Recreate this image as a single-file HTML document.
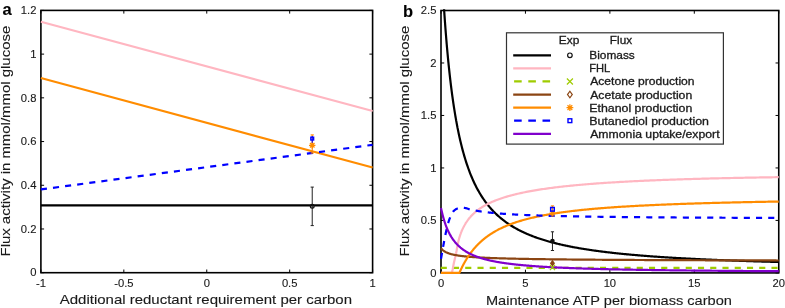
<!DOCTYPE html><html><head><meta charset="utf-8"><style>html,body{margin:0;padding:0;background:#fff;width:785px;height:308px;overflow:hidden}body{position:relative;font-family:"Liberation Sans",sans-serif}</style></head><body>
<svg width="785" height="308" viewBox="0 0 785 308" style="position:absolute;left:0;top:0;will-change:transform;font-family:&quot;Liberation Sans&quot;,sans-serif">
<defs><clipPath id="ca"><rect x="39.699999999999996" y="9.200000000000001" width="334.1" height="264.7"/></clipPath><clipPath id="cb"><rect x="439.8" y="9.3" width="340.15" height="264.79999999999995"/></clipPath></defs>
<rect x="40.9" y="10.4" width="331.70" height="262.30" fill="none" stroke="#000" stroke-width="1.6"/>
<path d="M40.90,272.70v-3.2M40.90,10.40v3.2M123.83,272.70v-3.2M123.83,10.40v3.2M206.75,272.70v-3.2M206.75,10.40v3.2M289.68,272.70v-3.2M289.68,10.40v3.2M372.60,272.70v-3.2M372.60,10.40v3.2M40.90,272.70h3.2M372.60,272.70h-3.2M40.90,228.98h3.2M372.60,228.98h-3.2M40.90,185.27h3.2M372.60,185.27h-3.2M40.90,141.55h3.2M372.60,141.55h-3.2M40.90,97.83h3.2M372.60,97.83h-3.2M40.90,54.12h3.2M372.60,54.12h-3.2M40.90,10.40h3.2M372.60,10.40h-3.2" stroke="#000" stroke-width="1"/>
<rect x="441.0" y="10.5" width="337.75" height="262.40" fill="none" stroke="#000" stroke-width="1.6"/>
<path d="M441.00,272.90v-3.2M441.00,10.50v3.2M525.44,272.90v-3.2M525.44,10.50v3.2M609.88,272.90v-3.2M609.88,10.50v3.2M694.31,272.90v-3.2M694.31,10.50v3.2M778.75,272.90v-3.2M778.75,10.50v3.2M441.00,272.90h3.2M778.75,272.90h-3.2M441.00,220.42h3.2M778.75,220.42h-3.2M441.00,167.94h3.2M778.75,167.94h-3.2M441.00,115.46h3.2M778.75,115.46h-3.2M441.00,62.98h3.2M778.75,62.98h-3.2M441.00,10.50h3.2M778.75,10.50h-3.2" stroke="#000" stroke-width="1"/>
<polyline points="40.90,21.77 372.60,110.95" fill="none" stroke="#ffb6c1" stroke-width="2.2" stroke-linejoin="round" clip-path="url(#ca)"/>
<polyline points="40.90,77.94 372.60,167.56" fill="none" stroke="#ff8c00" stroke-width="2.2" stroke-linejoin="round" clip-path="url(#ca)"/>
<polyline points="40.90,189.42 372.60,144.83" fill="none" stroke="#0000ff" stroke-width="2.2" stroke-dasharray="6.1,6.1" stroke-linejoin="round" clip-path="url(#ca)"/>
<polyline points="40.90,205.38 372.60,205.38" fill="none" stroke="#000000" stroke-width="2.2" stroke-linejoin="round" clip-path="url(#ca)"/>
<line x1="312.23" y1="187.10" x2="312.23" y2="225.60" stroke="#222" stroke-width="1.0"/>
<line x1="310.63" y1="187.10" x2="313.83" y2="187.10" stroke="#222" stroke-width="1.0"/>
<line x1="310.63" y1="225.60" x2="313.83" y2="225.60" stroke="#222" stroke-width="1.0"/>
<circle cx="312.23" cy="206.30" r="1.9" fill="none" stroke="#111" stroke-width="1.2"/>
<line x1="312.23" y1="134.90" x2="312.23" y2="153.00" stroke="#ff8c00" stroke-width="1.1"/>
<line x1="310.63" y1="134.90" x2="313.83" y2="134.90" stroke="#ff8c00" stroke-width="1.1"/>
<line x1="310.63" y1="153.00" x2="313.83" y2="153.00" stroke="#ff8c00" stroke-width="1.1"/>
<path d="M309.03,145.30L315.43,145.30M312.23,142.10L312.23,148.50M309.97,143.04L314.49,147.56M309.97,147.56L314.49,143.04" stroke="#ff8c00" stroke-width="1.3"/>
<line x1="312.23" y1="136" x2="312.23" y2="142.7" stroke="#0000ff" stroke-width="1.1"/>
<rect x="310.83" y="137.20" width="2.8" height="2.8" fill="none" stroke="#0000ff" stroke-width="1.4"/>
<polyline points="440.70,267.97 778.75,267.97" fill="none" stroke="#9fcc00" stroke-width="2.2" stroke-dasharray="6.125,6.125" stroke-linejoin="round" clip-path="url(#cb)"/>
<polyline points="441.84,-28.83 441.92,-27.28 442.01,-25.75 442.09,-24.24 442.17,-22.74 442.25,-21.25 442.33,-19.77 442.41,-18.31 442.49,-16.87 442.57,-15.43 442.65,-14.01 442.73,-12.60 442.81,-11.20 442.89,-9.82 442.97,-8.44 443.05,-7.08 443.13,-5.74 443.21,-4.40 443.30,-3.07 443.38,-1.76 443.46,-0.46 443.54,0.84 443.62,2.12 443.70,3.39 443.78,4.64 443.86,5.89 443.94,7.13 444.02,8.36 444.10,9.58 444.18,10.78 444.26,11.98 444.34,13.17 444.42,14.35 444.50,15.51 444.59,16.67 444.67,17.82 444.75,18.96 444.83,20.09 444.91,21.21 444.99,22.33 445.07,23.43 445.15,24.52 445.23,25.61 445.31,26.69 445.39,27.76 445.47,28.82 445.55,29.87 445.63,30.92 445.71,31.95 445.79,32.98 445.88,34.00 445.96,35.01 446.04,36.02 446.12,37.01 446.20,38.00 446.28,38.99 446.36,39.96 446.44,40.93 446.52,41.89 446.60,42.84 446.68,43.79 446.76,44.72 446.84,45.66 446.92,46.58 447.00,47.50 447.08,48.41 447.17,49.31 447.25,50.21 447.33,51.10 447.41,51.99 447.49,52.87 447.57,53.74 447.65,54.61 447.73,55.47 447.81,56.32 447.89,57.17 447.97,58.01 448.05,58.85 448.13,59.68 448.21,60.50 448.29,61.32 448.37,62.13 448.46,62.94 448.54,63.74 448.62,64.53 448.70,65.32 448.78,66.11 448.86,66.89 448.94,67.66 449.02,68.43 449.10,69.20 449.18,69.95 449.26,70.71 449.34,71.46 449.42,72.20 449.50,72.94 449.58,73.67 449.66,74.40 449.75,75.12 449.83,75.84 449.91,76.56 449.99,77.27 450.07,77.97 450.15,78.67 450.23,79.37 450.31,80.06 450.39,80.75 450.47,81.43 450.55,82.11 450.63,82.78 450.71,83.45 450.79,84.11 450.87,84.77 450.95,85.43 451.03,86.08 451.12,86.73 451.20,87.38 451.28,88.02 451.36,88.65 451.44,89.28 451.52,89.91 451.60,90.54 451.68,91.16 451.76,91.77 451.84,92.39 451.92,93.00 452.00,93.60 452.08,94.20 452.16,94.80 452.24,95.40 452.32,95.99 452.41,96.57 452.49,97.16 452.57,97.74 452.65,98.31 452.73,98.89 452.81,99.46 452.89,100.02 452.97,100.59 453.05,101.15 453.13,101.70 453.21,102.26 453.29,102.81 453.37,103.35 453.45,103.90 453.53,104.44 453.61,104.97 453.70,105.51 453.78,106.04 453.86,106.57 453.94,107.09 454.02,107.61 454.10,108.13 454.18,108.65 454.26,109.16 454.34,109.67 454.42,110.18 454.50,110.68 454.58,111.18 454.66,111.68 454.74,112.18 454.82,112.67 454.90,113.16 454.99,113.65 455.07,114.13 455.15,114.61 455.23,115.09 455.31,115.57 455.39,116.05 455.47,116.52 455.55,116.99 455.63,117.45 455.71,117.92 455.79,118.38 455.87,118.84 455.95,119.29 456.03,119.75 456.11,120.20 456.19,120.65 456.28,121.09 456.36,121.54 456.44,121.98 456.52,122.42 456.60,122.86 456.68,123.29 456.76,123.72 456.84,124.15 456.92,124.58 457.00,125.01 457.08,125.43 457.16,125.85 457.24,126.27 457.32,126.69 457.40,127.10 457.48,127.52 457.57,127.93 457.65,128.34 457.73,128.74 457.81,129.15 457.89,129.55 457.89,129.55 458.69,133.45 459.50,137.16 460.30,140.70 461.10,144.07 461.91,147.28 462.71,150.35 463.52,153.29 464.32,156.10 465.12,158.79 465.93,161.37 466.73,163.84 467.54,166.21 468.34,168.49 469.15,170.68 469.95,172.79 470.75,174.82 471.56,176.77 472.36,178.66 473.17,180.47 473.97,182.23 474.77,183.92 475.58,185.55 476.38,187.13 477.19,188.66 477.99,190.13 478.80,191.56 479.60,192.95 480.40,194.29 481.21,195.59 482.01,196.85 482.82,198.07 483.62,199.26 484.43,200.41 485.23,201.53 486.03,202.61 486.84,203.67 487.64,204.69 488.45,205.69 489.25,206.66 490.05,207.61 490.86,208.53 491.66,209.42 492.47,210.29 493.27,211.14 494.07,211.97 494.88,212.78 495.68,213.57 496.49,214.33 497.29,215.08 498.10,215.82 498.90,216.53 499.70,217.23 500.51,217.91 501.31,218.57 502.12,219.22 502.92,219.86 503.73,220.48 504.53,221.09 505.33,221.68 506.14,222.27 506.94,222.83 507.75,223.39 508.55,223.94 509.35,224.47 510.16,224.99 510.96,225.50 511.77,226.01 512.57,226.50 513.38,226.98 514.18,227.45 514.98,227.91 515.79,228.37 516.59,228.81 517.40,229.25 518.20,229.68 519.00,230.10 519.81,230.51 520.61,230.91 521.42,231.31 522.22,231.70 523.02,232.08 523.83,232.46 524.63,232.83 525.44,233.19 526.24,233.55 527.05,233.90 527.85,234.24 528.65,234.58 529.46,234.91 530.26,235.24 531.07,235.56 531.87,235.88 532.67,236.19 533.48,236.49 534.28,236.80 535.09,237.09 535.89,237.38 536.70,237.67 537.50,237.95 538.30,238.23 539.11,238.50 539.91,238.77 540.72,239.04 541.52,239.30 542.33,239.55 543.13,239.81 543.93,240.06 544.74,240.30 545.54,240.54 546.35,240.78 547.15,241.02 547.95,241.25 548.76,241.48 549.56,241.70 550.37,241.92 551.17,242.14 551.98,242.36 552.78,242.57 553.58,242.78 554.39,242.99 555.19,243.19 556.00,243.39 556.80,243.59 557.60,243.78 558.41,243.98 559.21,244.17 560.02,244.36 560.82,244.54 561.62,244.72 562.43,244.90 563.23,245.08 564.04,245.26 564.84,245.43 565.65,245.60 566.45,245.77 567.25,245.94 568.06,246.11 568.86,246.27 569.67,246.43 570.47,246.59 571.27,246.75 572.08,246.90 572.88,247.05 573.69,247.21 574.49,247.36 575.30,247.50 576.10,247.65 576.90,247.79 577.71,247.94 578.51,248.08 579.32,248.22 580.12,248.36 580.92,248.49 581.73,248.63 582.53,248.76 583.34,248.89 584.14,249.02 584.95,249.15 585.75,249.28 586.55,249.40 587.36,249.53 588.16,249.65 588.97,249.77 589.77,249.89 590.58,250.01 591.38,250.13 592.18,250.25 592.99,250.36 593.79,250.48 594.60,250.59 595.40,250.70 596.20,250.81 597.01,250.92 597.81,251.03 598.62,251.14 599.42,251.24 600.23,251.35 601.03,251.45 601.83,251.55 602.64,251.65 603.44,251.76 604.25,251.85 605.05,251.95 605.85,252.05 606.66,252.15 607.46,252.24 608.27,252.34 609.07,252.43 609.88,252.53 610.68,252.62 611.48,252.71 612.29,252.80 613.09,252.89 613.90,252.98 614.70,253.07 615.50,253.15 616.31,253.24 617.11,253.32 617.92,253.41 618.72,253.49 619.52,253.58 620.33,253.66 621.13,253.74 621.94,253.82 622.74,253.90 623.55,253.98 624.35,254.06 625.15,254.14 625.96,254.21 626.76,254.29 627.57,254.37 628.37,254.44 629.17,254.51 629.98,254.59 630.78,254.66 631.59,254.73 632.39,254.81 633.20,254.88 634.00,254.95 634.80,255.02 635.61,255.09 636.41,255.16 637.22,255.22 638.02,255.29 638.82,255.36 639.63,255.43 640.43,255.49 641.24,255.56 642.04,255.62 642.85,255.69 643.65,255.75 644.45,255.81 645.26,255.88 646.06,255.94 646.87,256.00 647.67,256.06 648.47,256.12 649.28,256.18 650.08,256.24 650.89,256.30 651.69,256.36 652.50,256.42 653.30,256.48 654.10,256.54 654.91,256.59 655.71,256.65 656.52,256.71 657.32,256.76 658.12,256.82 658.93,256.87 659.73,256.93 660.54,256.98 661.34,257.03 662.15,257.09 662.95,257.14 663.75,257.19 664.56,257.24 665.36,257.30 666.17,257.35 666.97,257.40 667.77,257.45 668.58,257.50 669.38,257.55 670.19,257.60 670.99,257.65 671.80,257.69 672.60,257.74 673.40,257.79 674.21,257.84 675.01,257.89 675.82,257.93 676.62,257.98 677.42,258.03 678.23,258.07 679.03,258.12 679.84,258.16 680.64,258.21 681.45,258.25 682.25,258.30 683.05,258.34 683.86,258.38 684.66,258.43 685.47,258.47 686.27,258.51 687.08,258.56 687.88,258.60 688.68,258.64 689.49,258.68 690.29,258.72 691.10,258.76 691.90,258.80 692.70,258.84 693.51,258.89 694.31,258.93 695.12,258.96 695.92,259.00 696.73,259.04 697.53,259.08 698.33,259.12 699.14,259.16 699.94,259.20 700.75,259.24 701.55,259.27 702.35,259.31 703.16,259.35 703.96,259.38 704.77,259.42 705.57,259.46 706.38,259.49 707.18,259.53 707.98,259.57 708.79,259.60 709.59,259.64 710.40,259.67 711.20,259.71 712.00,259.74 712.81,259.78 713.61,259.81 714.42,259.84 715.22,259.88 716.02,259.91 716.83,259.94 717.63,259.98 718.44,260.01 719.24,260.04 720.05,260.08 720.85,260.11 721.65,260.14 722.46,260.17 723.26,260.20 724.07,260.24 724.87,260.27 725.67,260.30 726.48,260.33 727.28,260.36 728.09,260.39 728.89,260.42 729.70,260.45 730.50,260.48 731.30,260.51 732.11,260.54 732.91,260.57 733.72,260.60 734.52,260.63 735.33,260.66 736.13,260.69 736.93,260.72 737.74,260.74 738.54,260.77 739.35,260.80 740.15,260.83 740.95,260.86 741.76,260.88 742.56,260.91 743.37,260.94 744.17,260.97 744.98,260.99 745.78,261.02 746.58,261.05 747.39,261.07 748.19,261.10 749.00,261.13 749.80,261.15 750.60,261.18 751.41,261.21 752.21,261.23 753.02,261.26 753.82,261.28 754.62,261.31 755.43,261.33 756.23,261.36 757.04,261.38 757.84,261.41 758.65,261.43 759.45,261.46 760.25,261.48 761.06,261.51 761.86,261.53 762.67,261.55 763.47,261.58 764.27,261.60 765.08,261.63 765.88,261.65 766.69,261.67 767.49,261.70 768.30,261.72 769.10,261.74 769.90,261.76 770.71,261.79 771.51,261.81 772.32,261.83 773.12,261.85 773.92,261.88 774.73,261.90 775.53,261.92 776.34,261.94 777.14,261.96 777.95,261.99 778.75,262.01" fill="none" stroke="#000000" stroke-width="2.2" stroke-linejoin="round" clip-path="url(#cb)"/>
<polyline points="441.00,272.90 443.62,272.90 446.24,272.90 448.85,272.90 451.47,272.90 451.47,272.90 451.60,272.84 451.74,272.68 451.87,272.42 452.01,272.07 452.14,271.64 452.28,271.14 452.41,270.58 452.55,269.96 452.68,269.30 452.81,268.61 452.95,267.89 453.08,267.16 453.22,266.41 453.35,265.67 453.49,264.94 453.62,264.23 453.76,263.55 453.89,262.91 454.02,262.31 454.16,261.74 454.29,261.16 454.43,260.59 454.56,260.02 454.70,259.44 454.83,258.86 454.97,258.28 455.10,257.70 455.23,257.11 455.37,256.52 455.50,255.92 455.64,255.31 455.77,254.69 455.91,254.07 456.04,253.43 456.18,252.79 456.31,252.13 456.44,251.45 456.58,250.74 456.71,249.99 456.85,249.22 456.98,248.44 457.12,247.66 457.25,246.88 457.38,246.12 457.52,245.37 457.65,244.66 457.79,243.99 457.92,243.36 458.06,242.76 458.19,242.17 458.33,241.60 458.46,241.05 458.59,240.51 458.73,239.98 458.86,239.47 459.00,238.97 459.13,238.49 459.27,238.01 459.40,237.55 459.54,237.09 459.67,236.65 459.80,236.22 459.94,235.80 460.07,235.39 460.21,234.98 460.34,234.59 460.48,234.21 460.61,233.83 460.75,233.46 460.88,233.09 461.01,232.74 461.15,232.38 461.28,232.04 461.42,231.70 461.55,231.36 461.69,231.04 461.82,230.72 461.96,230.40 462.09,230.09 462.22,229.78 462.36,229.48 462.49,229.18 462.63,228.89 462.76,228.60 462.90,228.32 463.03,228.04 463.16,227.76 463.30,227.49 463.43,227.22 463.57,226.96 463.70,226.70 463.84,226.44 463.97,226.19 464.11,225.94 464.24,225.69 464.37,225.45 464.51,225.21 464.64,224.97 464.78,224.74 464.91,224.51 465.05,224.28 465.18,224.05 465.32,223.83 465.45,223.61 465.58,223.39 465.72,223.17 465.85,222.96 465.99,222.75 466.12,222.54 466.26,222.34 466.39,222.13 466.53,221.93 466.66,221.73 466.79,221.53 466.93,221.34 467.06,221.15 467.20,220.95 467.33,220.77 467.47,220.58 467.60,220.39 467.74,220.21 467.87,220.03 468.00,219.85 468.14,219.67 468.27,219.49 468.41,219.32 468.54,219.15 468.68,218.98 468.81,218.81 468.95,218.64 469.08,218.47 469.21,218.31 469.35,218.14 469.48,217.98 469.62,217.82 469.75,217.66 469.89,217.50 470.02,217.35 470.15,217.19 470.29,217.04 470.42,216.89 470.56,216.74 470.69,216.59 470.83,216.44 470.96,216.29 471.10,216.15 471.23,216.00 471.36,215.86 471.50,215.72 471.63,215.57 471.77,215.43 471.90,215.30 472.04,215.16 472.17,215.02 472.31,214.89 472.44,214.75 472.57,214.62 472.71,214.49 472.84,214.35 472.98,214.22 473.11,214.09 473.25,213.97 473.38,213.84 473.52,213.71 473.65,213.59 473.78,213.46 473.92,213.34 474.05,213.21 474.19,213.09 474.32,212.97 474.46,212.85 474.59,212.73 474.73,212.61 474.86,212.49 474.99,212.38 475.13,212.26 475.26,212.15 475.40,212.03 475.53,211.92 475.67,211.80 475.80,211.69 475.94,211.58 476.07,211.47 476.20,211.36 476.34,211.25 476.47,211.14 476.61,211.03 476.74,210.93 476.88,210.82 477.01,210.71 477.14,210.61 477.28,210.51 477.41,210.40 477.55,210.30 477.68,210.20 477.82,210.09 477.95,209.99 478.09,209.89 478.22,209.79 478.35,209.69 478.49,209.59 478.62,209.50 478.76,209.40 478.89,209.30 479.03,209.21 479.16,209.11 479.30,209.01 479.43,208.92 479.56,208.83 479.70,208.73 479.83,208.64 479.97,208.55 480.10,208.45 480.24,208.36 480.37,208.27 480.51,208.18 480.64,208.09 480.77,208.00 480.91,207.91 481.04,207.83 481.18,207.74 481.31,207.65 481.45,207.56 481.58,207.48 481.72,207.39 481.85,207.31 481.98,207.22 482.12,207.14 482.25,207.05 482.39,206.97 482.52,206.89 482.66,206.80 482.79,206.72 482.93,206.64 483.06,206.56 483.19,206.48 483.33,206.40 483.46,206.32 483.60,206.24 483.73,206.16 483.87,206.08 484.00,206.00 484.13,205.92 484.27,205.84 484.40,205.77 484.54,205.69 484.67,205.61 484.81,205.54 484.94,205.46 485.08,205.39 485.21,205.31 485.34,205.24 485.48,205.16 485.61,205.09 485.75,205.02 485.88,204.94 486.02,204.87 486.15,204.80 486.29,204.73 486.42,204.65 486.55,204.58 486.69,204.51 486.82,204.44 486.96,204.37 487.09,204.30 487.23,204.23 487.36,204.16 487.50,204.09 487.63,204.02 487.76,203.95 487.90,203.89 488.03,203.82 488.17,203.75 488.30,203.68 488.44,203.62 488.57,203.55 488.71,203.48 488.84,203.42 488.97,203.35 489.11,203.29 489.24,203.22 489.38,203.16 489.51,203.09 489.65,203.03 489.78,202.97 489.92,202.90 490.05,202.84 490.18,202.78 490.32,202.71 490.45,202.65 490.59,202.59 490.72,202.53 490.86,202.46 490.99,202.40 491.12,202.34 491.26,202.28 491.39,202.22 491.53,202.16 491.66,202.10 491.66,202.10 493.11,201.47 494.55,200.87 495.99,200.29 497.43,199.74 498.88,199.21 500.32,198.69 501.76,198.20 503.20,197.73 504.65,197.27 506.09,196.83 507.53,196.41 508.97,195.99 510.42,195.60 511.86,195.21 513.30,194.84 514.74,194.48 516.19,194.12 517.63,193.78 519.07,193.45 520.52,193.13 521.96,192.82 523.40,192.52 524.84,192.22 526.29,191.93 527.73,191.66 529.17,191.38 530.61,191.12 532.06,190.86 533.50,190.61 534.94,190.36 536.38,190.12 537.83,189.88 539.27,189.66 540.71,189.43 542.16,189.21 543.60,189.00 545.04,188.79 546.48,188.59 547.93,188.39 549.37,188.19 550.81,188.00 552.25,187.81 553.70,187.63 555.14,187.45 556.58,187.27 558.02,187.10 559.47,186.93 560.91,186.76 562.35,186.60 563.80,186.44 565.24,186.28 566.68,186.13 568.12,185.98 569.57,185.83 571.01,185.69 572.45,185.54 573.89,185.40 575.34,185.27 576.78,185.13 578.22,185.00 579.66,184.87 581.11,184.74 582.55,184.62 583.99,184.49 585.43,184.37 586.88,184.25 588.32,184.13 589.76,184.02 591.21,183.90 592.65,183.79 594.09,183.68 595.53,183.57 596.98,183.47 598.42,183.36 599.86,183.26 601.30,183.16 602.75,183.06 604.19,182.96 605.63,182.86 607.07,182.77 608.52,182.67 609.96,182.58 611.40,182.49 612.85,182.40 614.29,182.31 615.73,182.23 617.17,182.14 618.62,182.06 620.06,181.97 621.50,181.89 622.94,181.81 624.39,181.73 625.83,181.65 627.27,181.57 628.71,181.50 630.16,181.42 631.60,181.35 633.04,181.27 634.48,181.20 635.93,181.13 637.37,181.06 638.81,180.99 640.26,180.92 641.70,180.86 643.14,180.79 644.58,180.72 646.03,180.66 647.47,180.60 648.91,180.53 650.35,180.47 651.80,180.41 653.24,180.35 654.68,180.29 656.12,180.23 657.57,180.17 659.01,180.12 660.45,180.06 661.90,180.00 663.34,179.95 664.78,179.89 666.22,179.84 667.67,179.79 669.11,179.73 670.55,179.68 671.99,179.63 673.44,179.58 674.88,179.53 676.32,179.48 677.76,179.43 679.21,179.39 680.65,179.34 682.09,179.29 683.54,179.25 684.98,179.20 686.42,179.16 687.86,179.11 689.31,179.07 690.75,179.03 692.19,178.98 693.63,178.94 695.08,178.90 696.52,178.86 697.96,178.82 699.40,178.78 700.85,178.74 702.29,178.70 703.73,178.66 705.17,178.62 706.62,178.58 708.06,178.55 709.50,178.51 710.95,178.47 712.39,178.44 713.83,178.40 715.27,178.37 716.72,178.33 718.16,178.30 719.60,178.26 721.04,178.23 722.49,178.20 723.93,178.17 725.37,178.13 726.81,178.10 728.26,178.07 729.70,178.04 731.14,178.01 732.59,177.98 734.03,177.95 735.47,177.92 736.91,177.89 738.36,177.86 739.80,177.83 741.24,177.80 742.68,177.78 744.13,177.75 745.57,177.72 747.01,177.69 748.45,177.67 749.90,177.64 751.34,177.62 752.78,177.59 754.22,177.57 755.67,177.54 757.11,177.52 758.55,177.49 760.00,177.47 761.44,177.44 762.88,177.42 764.32,177.40 765.77,177.38 767.21,177.35 768.65,177.33 770.09,177.31 771.54,177.29 772.98,177.27 774.42,177.24 775.86,177.22 777.31,177.20 778.75,177.18" fill="none" stroke="#ffb6c1" stroke-width="2.2" stroke-linejoin="round" clip-path="url(#cb)"/>
<polyline points="441.00,248.10 441.42,248.64 441.84,249.13 442.27,249.57 442.69,249.97 443.11,250.33 443.53,250.67 443.96,250.98 444.38,251.26 444.80,251.53 445.22,251.78 445.64,252.01 446.07,252.23 446.49,252.43 446.91,252.63 447.33,252.81 447.75,252.98 448.18,253.14 448.60,253.30 449.02,253.45 449.44,253.59 449.87,253.72 450.29,253.85 450.71,253.97 451.13,254.09 451.55,254.20 451.98,254.31 452.40,254.42 452.82,254.52 453.24,254.61 453.67,254.71 454.09,254.80 454.51,254.88 454.93,254.97 455.35,255.05 455.78,255.13 456.20,255.20 456.62,255.27 457.04,255.35 457.47,255.42 457.89,255.48 458.31,255.55 458.73,255.61 459.15,255.67 459.58,255.73 460.00,255.79 460.42,255.85 460.84,255.90 461.26,255.96 461.69,256.01 462.11,256.06 462.53,256.11 462.95,256.16 463.38,256.21 463.80,256.26 464.22,256.30 464.64,256.35 465.06,256.39 465.49,256.43 465.91,256.47 466.33,256.51 466.75,256.55 467.18,256.59 467.60,256.63 468.02,256.67 468.44,256.71 468.86,256.74 469.29,256.78 469.71,256.81 470.13,256.85 470.55,256.88 470.98,256.91 471.40,256.95 471.82,256.98 472.24,257.01 472.66,257.04 473.09,257.07 473.51,257.10 473.93,257.13 474.35,257.16 474.77,257.18 475.20,257.21 475.62,257.24 476.04,257.27 476.46,257.29 476.89,257.32 477.31,257.34 477.73,257.37 478.15,257.39 478.57,257.42 479.00,257.44 479.42,257.46 479.84,257.49 480.26,257.51 480.69,257.53 481.11,257.56 481.53,257.58 481.95,257.60 482.37,257.62 482.80,257.64 483.22,257.66 483.64,257.68 484.06,257.70 484.49,257.72 484.91,257.74 485.33,257.76 485.75,257.78 486.17,257.80 486.60,257.82 487.02,257.84 487.44,257.85 487.86,257.87 488.29,257.89 488.71,257.91 489.13,257.93 489.55,257.94 489.97,257.96 490.40,257.98 490.82,257.99 491.24,258.01 491.66,258.03 492.08,258.04 492.51,258.06 492.93,258.07 493.35,258.09 493.77,258.10 494.20,258.12 494.62,258.13 495.04,258.15 495.46,258.16 495.88,258.18 496.31,258.19 496.73,258.20 497.15,258.22 497.57,258.23 498.00,258.25 498.42,258.26 498.84,258.27 499.26,258.29 499.68,258.30 500.11,258.31 500.53,258.33 500.95,258.34 501.37,258.35 501.80,258.36 502.22,258.38 502.64,258.39 503.06,258.40 503.48,258.41 503.91,258.42 504.33,258.44 504.75,258.45 505.17,258.46 505.59,258.47 506.02,258.48 506.44,258.49 506.86,258.50 507.28,258.51 507.71,258.53 508.13,258.54 508.55,258.55 508.97,258.56 509.39,258.57 509.82,258.58 510.24,258.59 510.66,258.60 511.08,258.61 511.51,258.62 511.93,258.63 512.35,258.64 512.77,258.65 513.19,258.66 513.62,258.67 514.04,258.68 514.46,258.69 514.88,258.70 515.31,258.71 515.73,258.72 516.15,258.73 516.57,258.73 516.99,258.74 517.42,258.75 517.84,258.76 518.26,258.77 518.68,258.78 519.10,258.79 519.53,258.80 519.95,258.80 520.37,258.81 520.79,258.82 521.22,258.83 521.64,258.84 522.06,258.85 522.48,258.85 522.90,258.86 523.33,258.87 523.75,258.88 524.17,258.89 524.59,258.89 525.02,258.90 525.44,258.91 525.86,258.92 526.28,258.93 526.70,258.93 527.13,258.94 527.55,258.95 527.97,258.96 528.39,258.96 528.82,258.97 529.24,258.98 529.66,258.99 530.08,258.99 530.50,259.00 530.93,259.01 531.35,259.01 531.77,259.02 532.19,259.03 532.61,259.03 533.04,259.04 533.46,259.05 533.88,259.06 534.30,259.06 534.73,259.07 535.15,259.08 535.57,259.08 535.99,259.09 536.41,259.09 536.84,259.10 537.26,259.11 537.68,259.11 538.10,259.12 538.53,259.13 538.95,259.13 539.37,259.14 539.79,259.15 540.21,259.15 540.64,259.16 541.06,259.16 541.48,259.17 541.90,259.18 542.33,259.18 542.75,259.19 543.17,259.19 543.59,259.20 544.01,259.21 544.44,259.21 544.86,259.22 545.28,259.22 545.70,259.23 546.12,259.23 546.55,259.24 546.97,259.24 547.39,259.25 547.81,259.26 548.24,259.26 548.66,259.27 549.08,259.27 549.50,259.28 549.92,259.28 550.35,259.29 550.77,259.29 551.19,259.30 551.61,259.30 552.04,259.31 552.46,259.31 552.88,259.32 553.30,259.32 553.72,259.33 554.15,259.34 554.57,259.34 554.99,259.35 555.41,259.35 555.84,259.36 556.26,259.36 556.68,259.36 557.10,259.37 557.52,259.37 557.95,259.38 558.37,259.38 558.79,259.39 559.21,259.39 559.63,259.40 560.06,259.40 560.48,259.41 560.90,259.41 561.32,259.42 561.75,259.42 562.17,259.43 562.59,259.43 563.01,259.44 563.43,259.44 563.86,259.44 564.28,259.45 564.70,259.45 565.12,259.46 565.55,259.46 565.97,259.47 566.39,259.47 566.81,259.48 567.23,259.48 567.66,259.48 568.08,259.49 568.50,259.49 568.92,259.50 569.35,259.50 569.77,259.50 570.19,259.51 570.61,259.51 571.03,259.52 571.46,259.52 571.88,259.53 572.30,259.53 572.72,259.53 573.14,259.54 573.57,259.54 573.99,259.55 574.41,259.55 574.83,259.55 575.26,259.56 575.68,259.56 576.10,259.57 576.52,259.57 576.94,259.57 577.37,259.58 577.79,259.58 578.21,259.58 578.63,259.59 579.06,259.59 579.48,259.60 579.90,259.60 580.32,259.60 580.74,259.61 581.17,259.61 581.59,259.61 582.01,259.62 582.43,259.62 582.86,259.63 583.28,259.63 583.70,259.63 584.12,259.64 584.54,259.64 584.97,259.64 585.39,259.65 585.81,259.65 586.23,259.65 586.65,259.66 587.08,259.66 587.50,259.66 587.92,259.67 588.34,259.67 588.77,259.67 589.19,259.68 589.61,259.68 590.03,259.68 590.45,259.69 590.88,259.69 591.30,259.69 591.72,259.70 592.14,259.70 592.57,259.70 592.99,259.71 593.41,259.71 593.83,259.71 594.25,259.72 594.68,259.72 595.10,259.72 595.52,259.73 595.94,259.73 596.37,259.73 596.79,259.74 597.21,259.74 597.63,259.74 598.05,259.75 598.48,259.75 598.90,259.75 599.32,259.76 599.74,259.76 600.16,259.76 600.59,259.76 601.01,259.77 601.43,259.77 601.85,259.77 602.28,259.78 602.70,259.78 603.12,259.78 603.54,259.79 603.96,259.79 604.39,259.79 604.81,259.79 605.23,259.80 605.65,259.80 606.08,259.80 606.50,259.81 606.92,259.81 607.34,259.81 607.76,259.81 608.19,259.82 608.61,259.82 609.03,259.82 609.45,259.83 609.88,259.83 610.30,259.83 610.72,259.83 611.14,259.84 611.56,259.84 611.99,259.84 612.41,259.84 612.83,259.85 613.25,259.85 613.67,259.85 614.10,259.86 614.52,259.86 614.94,259.86 615.36,259.86 615.79,259.87 616.21,259.87 616.63,259.87 617.05,259.87 617.47,259.88 617.90,259.88 618.32,259.88 618.74,259.88 619.16,259.89 619.59,259.89 620.01,259.89 620.43,259.89 620.85,259.90 621.27,259.90 621.70,259.90 622.12,259.90 622.54,259.91 622.96,259.91 623.38,259.91 623.81,259.91 624.23,259.92 624.65,259.92 625.07,259.92 625.50,259.92 625.92,259.93 626.34,259.93 626.76,259.93 627.18,259.93 627.61,259.94 628.03,259.94 628.45,259.94 628.87,259.94 629.30,259.95 629.72,259.95 630.14,259.95 630.56,259.95 630.98,259.96 631.41,259.96 631.83,259.96 632.25,259.96 632.67,259.97 633.10,259.97 633.52,259.97 633.94,259.97 634.36,259.97 634.78,259.98 635.21,259.98 635.63,259.98 636.05,259.98 636.47,259.99 636.89,259.99 637.32,259.99 637.74,259.99 638.16,259.99 638.58,260.00 639.01,260.00 639.43,260.00 639.85,260.00 640.27,260.01 640.69,260.01 641.12,260.01 641.54,260.01 641.96,260.01 642.38,260.02 642.81,260.02 643.23,260.02 643.65,260.02 644.07,260.02 644.49,260.03 644.92,260.03 645.34,260.03 645.76,260.03 646.18,260.04 646.61,260.04 647.03,260.04 647.45,260.04 647.87,260.04 648.29,260.05 648.72,260.05 649.14,260.05 649.56,260.05 649.98,260.05 650.40,260.06 650.83,260.06 651.25,260.06 651.67,260.06 652.09,260.06 652.52,260.07 652.94,260.07 653.36,260.07 653.78,260.07 654.20,260.07 654.63,260.08 655.05,260.08 655.47,260.08 655.89,260.08 656.32,260.08 656.74,260.09 657.16,260.09 657.58,260.09 658.00,260.09 658.43,260.09 658.85,260.09 659.27,260.10 659.69,260.10 660.12,260.10 660.54,260.10 660.96,260.10 661.38,260.11 661.80,260.11 662.23,260.11 662.65,260.11 663.07,260.11 663.49,260.12 663.91,260.12 664.34,260.12 664.76,260.12 665.18,260.12 665.60,260.12 666.03,260.13 666.45,260.13 666.87,260.13 667.29,260.13 667.71,260.13 668.14,260.14 668.56,260.14 668.98,260.14 669.40,260.14 669.83,260.14 670.25,260.14 670.67,260.15 671.09,260.15 671.51,260.15 671.94,260.15 672.36,260.15 672.78,260.15 673.20,260.16 673.63,260.16 674.05,260.16 674.47,260.16 674.89,260.16 675.31,260.17 675.74,260.17 676.16,260.17 676.58,260.17 677.00,260.17 677.42,260.17 677.85,260.18 678.27,260.18 678.69,260.18 679.11,260.18 679.54,260.18 679.96,260.18 680.38,260.19 680.80,260.19 681.22,260.19 681.65,260.19 682.07,260.19 682.49,260.19 682.91,260.20 683.34,260.20 683.76,260.20 684.18,260.20 684.60,260.20 685.02,260.20 685.45,260.20 685.87,260.21 686.29,260.21 686.71,260.21 687.14,260.21 687.56,260.21 687.98,260.21 688.40,260.22 688.82,260.22 689.25,260.22 689.67,260.22 690.09,260.22 690.51,260.22 690.93,260.23 691.36,260.23 691.78,260.23 692.20,260.23 692.62,260.23 693.05,260.23 693.47,260.23 693.89,260.24 694.31,260.24 694.73,260.24 695.16,260.24 695.58,260.24 696.00,260.24 696.42,260.25 696.85,260.25 697.27,260.25 697.69,260.25 698.11,260.25 698.53,260.25 698.96,260.25 699.38,260.26 699.80,260.26 700.22,260.26 700.65,260.26 701.07,260.26 701.49,260.26 701.91,260.26 702.33,260.27 702.76,260.27 703.18,260.27 703.60,260.27 704.02,260.27 704.44,260.27 704.87,260.27 705.29,260.28 705.71,260.28 706.13,260.28 706.56,260.28 706.98,260.28 707.40,260.28 707.82,260.28 708.24,260.29 708.67,260.29 709.09,260.29 709.51,260.29 709.93,260.29 710.36,260.29 710.78,260.29 711.20,260.30 711.62,260.30 712.04,260.30 712.47,260.30 712.89,260.30 713.31,260.30 713.73,260.30 714.16,260.30 714.58,260.31 715.00,260.31 715.42,260.31 715.84,260.31 716.27,260.31 716.69,260.31 717.11,260.31 717.53,260.32 717.96,260.32 718.38,260.32 718.80,260.32 719.22,260.32 719.64,260.32 720.07,260.32 720.49,260.32 720.91,260.33 721.33,260.33 721.75,260.33 722.18,260.33 722.60,260.33 723.02,260.33 723.44,260.33 723.87,260.34 724.29,260.34 724.71,260.34 725.13,260.34 725.55,260.34 725.98,260.34 726.40,260.34 726.82,260.34 727.24,260.35 727.67,260.35 728.09,260.35 728.51,260.35 728.93,260.35 729.35,260.35 729.78,260.35 730.20,260.35 730.62,260.36 731.04,260.36 731.46,260.36 731.89,260.36 732.31,260.36 732.73,260.36 733.15,260.36 733.58,260.36 734.00,260.37 734.42,260.37 734.84,260.37 735.26,260.37 735.69,260.37 736.11,260.37 736.53,260.37 736.95,260.37 737.38,260.37 737.80,260.38 738.22,260.38 738.64,260.38 739.06,260.38 739.49,260.38 739.91,260.38 740.33,260.38 740.75,260.38 741.18,260.39 741.60,260.39 742.02,260.39 742.44,260.39 742.86,260.39 743.29,260.39 743.71,260.39 744.13,260.39 744.55,260.39 744.98,260.40 745.40,260.40 745.82,260.40 746.24,260.40 746.66,260.40 747.09,260.40 747.51,260.40 747.93,260.40 748.35,260.40 748.77,260.41 749.20,260.41 749.62,260.41 750.04,260.41 750.46,260.41 750.89,260.41 751.31,260.41 751.73,260.41 752.15,260.42 752.57,260.42 753.00,260.42 753.42,260.42 753.84,260.42 754.26,260.42 754.69,260.42 755.11,260.42 755.53,260.42 755.95,260.42 756.37,260.43 756.80,260.43 757.22,260.43 757.64,260.43 758.06,260.43 758.49,260.43 758.91,260.43 759.33,260.43 759.75,260.43 760.17,260.44 760.60,260.44 761.02,260.44 761.44,260.44 761.86,260.44 762.28,260.44 762.71,260.44 763.13,260.44 763.55,260.44 763.97,260.45 764.40,260.45 764.82,260.45 765.24,260.45 765.66,260.45 766.08,260.45 766.51,260.45 766.93,260.45 767.35,260.45 767.77,260.45 768.20,260.46 768.62,260.46 769.04,260.46 769.46,260.46 769.88,260.46 770.31,260.46 770.73,260.46 771.15,260.46 771.57,260.46 772.00,260.46 772.42,260.47 772.84,260.47 773.26,260.47 773.68,260.47 774.11,260.47 774.53,260.47 774.95,260.47 775.37,260.47 775.79,260.47 776.22,260.47 776.64,260.48 777.06,260.48 777.48,260.48 777.91,260.48 778.33,260.48 778.75,260.48" fill="none" stroke="#8b4513" stroke-width="2.2" stroke-linejoin="round" clip-path="url(#cb)"/>
<polyline points="441.00,272.90 459.38,272.90 459.49,272.65 459.60,272.40 459.70,272.16 459.81,271.91 459.92,271.67 460.03,271.43 460.14,271.18 460.24,270.95 460.35,270.71 460.46,270.47 460.57,270.23 460.68,270.00 460.78,269.77 460.89,269.54 461.00,269.31 461.11,269.08 461.22,268.85 461.32,268.62 461.43,268.40 461.54,268.17 461.65,267.95 461.76,267.73 461.86,267.51 461.97,267.29 462.08,267.07 462.19,266.86 462.30,266.64 462.40,266.43 462.51,266.22 462.62,266.00 462.73,265.79 462.84,265.58 462.94,265.37 463.05,265.17 463.16,264.96 463.27,264.76 463.38,264.55 463.48,264.35 463.59,264.15 463.70,263.95 463.81,263.75 463.92,263.55 464.02,263.35 464.13,263.15 464.24,262.96 464.35,262.76 464.46,262.57 464.56,262.38 464.67,262.19 464.78,262.00 464.89,261.81 464.99,261.62 465.10,261.43 465.21,261.24 465.32,261.06 465.43,260.87 465.53,260.69 465.64,260.51 465.75,260.32 465.86,260.14 465.97,259.96 466.07,259.78 466.18,259.61 466.29,259.43 466.40,259.25 466.51,259.08 466.61,258.90 466.72,258.73 466.83,258.55 466.94,258.38 467.05,258.21 467.15,258.04 467.26,257.87 467.37,257.70 467.48,257.53 467.59,257.37 467.69,257.20 467.80,257.04 467.91,256.87 468.02,256.71 468.13,256.54 468.23,256.38 468.34,256.22 468.45,256.06 468.56,255.90 468.67,255.74 468.77,255.58 468.88,255.42 468.99,255.27 469.10,255.11 469.21,254.95 469.31,254.80 469.42,254.65 469.53,254.49 469.64,254.34 469.75,254.19 469.85,254.04 469.96,253.89 470.07,253.74 470.18,253.59 470.29,253.44 470.39,253.29 470.50,253.14 470.61,253.00 470.72,252.85 470.83,252.71 470.93,252.56 471.04,252.42 471.15,252.28 471.26,252.13 471.36,251.99 471.47,251.85 471.58,251.71 471.69,251.57 471.80,251.43 471.90,251.29 472.01,251.16 472.12,251.02 472.23,250.88 472.34,250.75 472.44,250.61 472.55,250.47 472.66,250.34 472.77,250.21 472.88,250.07 472.98,249.94 473.09,249.81 473.20,249.68 473.31,249.55 473.42,249.42 473.52,249.29 473.63,249.16 473.74,249.03 473.85,248.90 473.96,248.77 474.06,248.65 474.17,248.52 474.28,248.40 474.39,248.27 474.50,248.15 474.60,248.02 474.71,247.90 474.82,247.78 474.93,247.65 475.04,247.53 475.14,247.41 475.25,247.29 475.36,247.17 475.47,247.05 475.58,246.93 475.68,246.81 475.79,246.69 475.90,246.57 476.01,246.46 476.12,246.34 476.22,246.22 476.33,246.11 476.44,245.99 476.55,245.88 476.66,245.76 476.76,245.65 476.87,245.53 476.98,245.42 477.09,245.31 477.20,245.20 477.30,245.08 477.41,244.97 477.52,244.86 477.63,244.75 477.73,244.64 477.84,244.53 477.95,244.42 478.06,244.31 478.17,244.21 478.27,244.10 478.38,243.99 478.49,243.88 478.60,243.78 478.71,243.67 478.81,243.57 478.92,243.46 479.03,243.36 479.14,243.25 479.25,243.15 479.35,243.04 479.46,242.94 479.57,242.84 479.68,242.74 479.79,242.63 479.89,242.53 480.00,242.43 480.11,242.33 480.22,242.23 480.33,242.13 480.43,242.03 480.54,241.93 480.65,241.83 480.76,241.73 480.87,241.64 480.97,241.54 481.08,241.44 481.19,241.35 481.30,241.25 481.41,241.15 481.51,241.06 481.62,240.96 481.73,240.87 481.84,240.77 481.95,240.68 482.05,240.58 482.16,240.49 482.27,240.40 482.38,240.30 482.49,240.21 482.59,240.12 482.70,240.03 482.81,239.94 482.92,239.84 483.03,239.75 483.13,239.66 483.24,239.57 483.35,239.48 483.46,239.39 483.57,239.31 483.67,239.22 483.78,239.13 483.89,239.04 484.00,238.95 484.10,238.86 484.21,238.78 484.32,238.69 484.43,238.60 484.54,238.52 484.64,238.43 484.75,238.35 484.86,238.26 484.97,238.18 485.08,238.09 485.18,238.01 485.29,237.92 485.40,237.84 485.51,237.76 485.62,237.67 485.72,237.59 485.83,237.51 485.94,237.43 486.05,237.34 486.16,237.26 486.26,237.18 486.37,237.10 486.48,237.02 486.59,236.94 486.70,236.86 486.80,236.78 486.91,236.70 487.02,236.62 487.13,236.54 487.24,236.46 487.34,236.38 487.45,236.30 487.56,236.23 487.67,236.15 487.78,236.07 487.88,235.99 487.99,235.92 488.10,235.84 488.21,235.76 488.32,235.69 488.42,235.61 488.53,235.54 488.64,235.46 488.75,235.39 488.86,235.31 488.96,235.24 489.07,235.16 489.18,235.09 489.29,235.01 489.40,234.94 489.50,234.87 489.61,234.79 489.72,234.72 489.83,234.65 489.94,234.58 490.04,234.50 490.15,234.43 490.26,234.36 490.37,234.29 490.47,234.22 490.58,234.15 490.69,234.08 490.80,234.01 490.91,233.94 491.01,233.87 491.12,233.80 491.23,233.73 491.34,233.66 491.45,233.59 491.55,233.52 491.66,233.45 491.66,233.45 492.62,232.85 493.58,232.27 494.54,231.71 495.50,231.16 496.46,230.62 497.42,230.10 498.38,229.59 499.34,229.10 500.30,228.62 501.26,228.15 502.22,227.70 503.18,227.26 504.14,226.82 505.10,226.40 506.06,225.99 507.03,225.59 507.99,225.20 508.95,224.81 509.91,224.44 510.87,224.08 511.83,223.72 512.79,223.37 513.75,223.03 514.71,222.70 515.67,222.37 516.63,222.06 517.59,221.75 518.55,221.44 519.51,221.14 520.47,220.85 521.43,220.57 522.39,220.29 523.35,220.01 524.31,219.75 525.27,219.48 526.23,219.23 527.19,218.97 528.15,218.73 529.11,218.48 530.07,218.25 531.03,218.01 531.99,217.79 532.95,217.56 533.91,217.34 534.87,217.12 535.83,216.91 536.79,216.70 537.75,216.50 538.71,216.30 539.67,216.10 540.63,215.91 541.59,215.72 542.55,215.53 543.51,215.35 544.47,215.17 545.43,214.99 546.39,214.82 547.35,214.64 548.31,214.48 549.27,214.31 550.23,214.15 551.19,213.99 552.15,213.83 553.11,213.67 554.07,213.52 555.03,213.37 555.99,213.22 556.95,213.08 557.91,212.93 558.87,212.79 559.83,212.65 560.79,212.52 561.75,212.38 562.71,212.25 563.67,212.12 564.63,211.99 565.59,211.86 566.55,211.74 567.52,211.61 568.48,211.49 569.44,211.37 570.40,211.26 571.36,211.14 572.32,211.02 573.28,210.91 574.24,210.80 575.20,210.69 576.16,210.58 577.12,210.47 578.08,210.37 579.04,210.27 580.00,210.16 580.96,210.06 581.92,209.96 582.88,209.86 583.84,209.77 584.80,209.67 585.76,209.57 586.72,209.48 587.68,209.39 588.64,209.30 589.60,209.21 590.56,209.12 591.52,209.03 592.48,208.94 593.44,208.86 594.40,208.77 595.36,208.69 596.32,208.61 597.28,208.53 598.24,208.45 599.20,208.37 600.16,208.29 601.12,208.21 602.08,208.13 603.04,208.06 604.00,207.98 604.96,207.91 605.92,207.84 606.88,207.76 607.84,207.69 608.80,207.62 609.76,207.55 610.72,207.48 611.68,207.41 612.64,207.35 613.60,207.28 614.56,207.21 615.52,207.15 616.48,207.08 617.44,207.02 618.40,206.96 619.36,206.89 620.32,206.83 621.28,206.77 622.24,206.71 623.20,206.65 624.16,206.59 625.12,206.53 626.08,206.48 627.04,206.42 628.01,206.36 628.97,206.31 629.93,206.25 630.89,206.19 631.85,206.14 632.81,206.09 633.77,206.03 634.73,205.98 635.69,205.93 636.65,205.88 637.61,205.82 638.57,205.77 639.53,205.72 640.49,205.67 641.45,205.62 642.41,205.58 643.37,205.53 644.33,205.48 645.29,205.43 646.25,205.39 647.21,205.34 648.17,205.29 649.13,205.25 650.09,205.20 651.05,205.16 652.01,205.11 652.97,205.07 653.93,205.03 654.89,204.98 655.85,204.94 656.81,204.90 657.77,204.86 658.73,204.81 659.69,204.77 660.65,204.73 661.61,204.69 662.57,204.65 663.53,204.61 664.49,204.57 665.45,204.53 666.41,204.49 667.37,204.46 668.33,204.42 669.29,204.38 670.25,204.34 671.21,204.31 672.17,204.27 673.13,204.23 674.09,204.20 675.05,204.16 676.01,204.12 676.97,204.09 677.93,204.05 678.89,204.02 679.85,203.99 680.81,203.95 681.77,203.92 682.73,203.88 683.69,203.85 684.65,203.82 685.61,203.79 686.57,203.75 687.53,203.72 688.50,203.69 689.46,203.66 690.42,203.63 691.38,203.60 692.34,203.56 693.30,203.53 694.26,203.50 695.22,203.47 696.18,203.44 697.14,203.41 698.10,203.38 699.06,203.36 700.02,203.33 700.98,203.30 701.94,203.27 702.90,203.24 703.86,203.21 704.82,203.18 705.78,203.16 706.74,203.13 707.70,203.10 708.66,203.08 709.62,203.05 710.58,203.02 711.54,203.00 712.50,202.97 713.46,202.94 714.42,202.92 715.38,202.89 716.34,202.87 717.30,202.84 718.26,202.82 719.22,202.79 720.18,202.77 721.14,202.74 722.10,202.72 723.06,202.69 724.02,202.67 724.98,202.64 725.94,202.62 726.90,202.60 727.86,202.57 728.82,202.55 729.78,202.53 730.74,202.51 731.70,202.48 732.66,202.46 733.62,202.44 734.58,202.42 735.54,202.39 736.50,202.37 737.46,202.35 738.42,202.33 739.38,202.31 740.34,202.28 741.30,202.26 742.26,202.24 743.22,202.22 744.18,202.20 745.14,202.18 746.10,202.16 747.06,202.14 748.02,202.12 748.99,202.10 749.95,202.08 750.91,202.06 751.87,202.04 752.83,202.02 753.79,202.00 754.75,201.98 755.71,201.96 756.67,201.94 757.63,201.92 758.59,201.90 759.55,201.89 760.51,201.87 761.47,201.85 762.43,201.83 763.39,201.81 764.35,201.79 765.31,201.78 766.27,201.76 767.23,201.74 768.19,201.72 769.15,201.71 770.11,201.69 771.07,201.67 772.03,201.65 772.99,201.64 773.95,201.62 774.91,201.60 775.87,201.59 776.83,201.57 777.79,201.55 778.75,201.54" fill="none" stroke="#ff8c00" stroke-width="2.2" stroke-linejoin="round" clip-path="url(#cb)"/>
<polyline points="441.00,258.94 441.42,256.47 441.85,254.03 442.27,251.62 442.69,249.23 443.11,246.87 443.54,244.54 443.96,242.28 444.38,240.04 444.80,237.83 445.23,235.67 445.65,233.59 446.07,231.63 446.50,229.73 446.92,227.89 447.34,226.14 447.76,224.51 448.19,223.05 448.61,221.68 449.03,220.38 449.45,219.16 449.88,218.03 450.30,216.99 450.72,216.06 451.15,215.18 451.57,214.32 451.99,213.51 452.41,212.76 452.84,212.08 453.26,211.48 453.68,210.98 454.10,210.58 454.53,210.23 454.95,209.90 455.37,209.60 455.80,209.32 456.22,209.08 456.64,208.85 457.06,208.66 457.49,208.49 457.91,208.34 458.33,208.21 458.75,208.08 459.18,207.95 459.60,207.84 460.02,207.75 460.44,207.68 460.87,207.63 461.29,207.61 461.71,207.62 462.14,207.64 462.56,207.67 462.98,207.71 463.40,207.76 463.83,207.81 464.25,207.86 464.67,207.91 465.09,207.98 465.52,208.06 465.94,208.17 466.36,208.28 466.79,208.41 467.21,208.54 467.63,208.68 468.05,208.82 468.48,208.96 468.90,209.10 469.32,209.22 469.74,209.34 470.17,209.44 470.59,209.54 471.01,209.64 471.44,209.74 471.86,209.83 472.28,209.92 472.70,210.02 473.13,210.10 473.55,210.19 473.97,210.28 474.39,210.36 474.82,210.44 475.24,210.52 475.66,210.60 476.09,210.68 476.51,210.76 476.93,210.83 477.35,210.90 477.78,210.98 478.20,211.05 478.62,211.12 479.04,211.18 479.47,211.25 479.89,211.32 480.31,211.38 480.74,211.45 481.16,211.51 481.58,211.57 482.00,211.63 482.43,211.69 482.85,211.75 483.27,211.81 483.69,211.87 484.12,211.92 484.54,211.98 484.96,212.03 485.39,212.09 485.81,212.14 486.23,212.19 486.65,212.24 487.08,212.29 487.50,212.34 487.92,212.39 488.34,212.44 488.77,212.49 489.19,212.53 489.61,212.58 490.04,212.63 490.46,212.67 490.88,212.71 491.30,212.76 491.73,212.80 492.15,212.84 492.57,212.89 492.99,212.93 493.42,212.97 493.84,213.01 494.26,213.05 494.68,213.09 495.11,213.13 495.53,213.16 495.95,213.20 496.38,213.24 496.80,213.28 497.22,213.31 497.64,213.35 498.07,213.38 498.49,213.42 498.91,213.45 499.33,213.49 499.76,213.52 500.18,213.55 500.60,213.59 501.03,213.62 501.45,213.65 501.87,213.68 502.29,213.72 502.72,213.75 503.14,213.78 503.56,213.81 503.98,213.84 504.41,213.87 504.83,213.90 505.25,213.92 505.68,213.95 506.10,213.98 506.52,214.01 506.94,214.04 507.37,214.06 507.79,214.09 508.21,214.12 508.63,214.15 509.06,214.17 509.48,214.20 509.90,214.22 510.33,214.25 510.75,214.27 511.17,214.30 511.59,214.32 512.02,214.35 512.44,214.37 512.86,214.40 513.28,214.42 513.71,214.44 514.13,214.47 514.55,214.49 514.98,214.51 515.40,214.53 515.82,214.56 516.24,214.58 516.67,214.60 517.09,214.62 517.51,214.64 517.93,214.66 518.36,214.68 518.78,214.71 519.20,214.73 519.63,214.75 520.05,214.77 520.47,214.79 520.89,214.81 521.32,214.83 521.74,214.85 522.16,214.86 522.58,214.88 523.01,214.90 523.43,214.92 523.85,214.94 524.28,214.96 524.70,214.98 525.12,214.99 525.54,215.01 525.97,215.03 526.39,215.05 526.81,215.07 527.23,215.08 527.66,215.10 528.08,215.12 528.50,215.13 528.92,215.15 529.35,215.17 529.77,215.18 530.19,215.20 530.62,215.22 531.04,215.23 531.46,215.25 531.88,215.26 532.31,215.28 532.73,215.29 533.15,215.31 533.57,215.33 534.00,215.34 534.42,215.36 534.84,215.37 535.27,215.39 535.69,215.40 536.11,215.41 536.53,215.43 536.96,215.44 537.38,215.46 537.80,215.47 538.22,215.49 538.65,215.50 539.07,215.51 539.49,215.53 539.92,215.54 540.34,215.55 540.76,215.57 541.18,215.58 541.61,215.59 542.03,215.61 542.45,215.62 542.87,215.63 543.30,215.64 543.72,215.66 544.14,215.67 544.57,215.68 544.99,215.69 545.41,215.71 545.83,215.72 546.26,215.73 546.68,215.74 547.10,215.76 547.52,215.77 547.95,215.78 548.37,215.79 548.79,215.80 549.22,215.81 549.64,215.83 550.06,215.84 550.48,215.85 550.91,215.86 551.33,215.87 551.75,215.88 552.17,215.89 552.60,215.90 553.02,215.91 553.44,215.92 553.87,215.93 554.29,215.95 554.71,215.96 555.13,215.97 555.56,215.98 555.98,215.99 556.40,216.00 556.82,216.01 557.25,216.02 557.67,216.03 558.09,216.04 558.52,216.05 558.94,216.06 559.36,216.07 559.78,216.08 560.21,216.09 560.63,216.10 561.05,216.11 561.47,216.11 561.90,216.12 562.32,216.13 562.74,216.14 563.16,216.15 563.59,216.16 564.01,216.17 564.43,216.18 564.86,216.19 565.28,216.20 565.70,216.21 566.12,216.22 566.55,216.22 566.97,216.23 567.39,216.24 567.81,216.25 568.24,216.26 568.66,216.27 569.08,216.28 569.51,216.28 569.93,216.29 570.35,216.30 570.77,216.31 571.20,216.32 571.62,216.32 572.04,216.33 572.46,216.34 572.89,216.35 573.31,216.36 573.73,216.36 574.16,216.37 574.58,216.38 575.00,216.39 575.42,216.40 575.85,216.40 576.27,216.41 576.69,216.42 577.11,216.43 577.54,216.43 577.96,216.44 578.38,216.45 578.81,216.46 579.23,216.46 579.65,216.47 580.07,216.48 580.50,216.49 580.92,216.49 581.34,216.50 581.76,216.51 582.19,216.51 582.61,216.52 583.03,216.53 583.46,216.53 583.88,216.54 584.30,216.55 584.72,216.56 585.15,216.56 585.57,216.57 585.99,216.58 586.41,216.58 586.84,216.59 587.26,216.60 587.68,216.60 588.11,216.61 588.53,216.61 588.95,216.62 589.37,216.63 589.80,216.63 590.22,216.64 590.64,216.65 591.06,216.65 591.49,216.66 591.91,216.67 592.33,216.67 592.76,216.68 593.18,216.68 593.60,216.69 594.02,216.70 594.45,216.70 594.87,216.71 595.29,216.71 595.71,216.72 596.14,216.73 596.56,216.73 596.98,216.74 597.40,216.74 597.83,216.75 598.25,216.76 598.67,216.76 599.10,216.77 599.52,216.77 599.94,216.78 600.36,216.78 600.79,216.79 601.21,216.79 601.63,216.80 602.05,216.81 602.48,216.81 602.90,216.82 603.32,216.82 603.75,216.83 604.17,216.83 604.59,216.84 605.01,216.84 605.44,216.85 605.86,216.85 606.28,216.86 606.70,216.86 607.13,216.87 607.55,216.88 607.97,216.88 608.40,216.89 608.82,216.89 609.24,216.90 609.66,216.90 610.09,216.91 610.51,216.91 610.93,216.92 611.35,216.92 611.78,216.93 612.20,216.93 612.62,216.94 613.05,216.94 613.47,216.95 613.89,216.95 614.31,216.95 614.74,216.96 615.16,216.96 615.58,216.97 616.00,216.97 616.43,216.98 616.85,216.98 617.27,216.99 617.70,216.99 618.12,217.00 618.54,217.00 618.96,217.01 619.39,217.01 619.81,217.02 620.23,217.02 620.65,217.02 621.08,217.03 621.50,217.03 621.92,217.04 622.35,217.04 622.77,217.05 623.19,217.05 623.61,217.06 624.04,217.06 624.46,217.06 624.88,217.07 625.30,217.07 625.73,217.08 626.15,217.08 626.57,217.09 626.99,217.09 627.42,217.09 627.84,217.10 628.26,217.10 628.69,217.11 629.11,217.11 629.53,217.11 629.95,217.12 630.38,217.12 630.80,217.13 631.22,217.13 631.64,217.13 632.07,217.14 632.49,217.14 632.91,217.15 633.34,217.15 633.76,217.15 634.18,217.16 634.60,217.16 635.03,217.17 635.45,217.17 635.87,217.17 636.29,217.18 636.72,217.18 637.14,217.18 637.56,217.19 637.99,217.19 638.41,217.20 638.83,217.20 639.25,217.20 639.68,217.21 640.10,217.21 640.52,217.21 640.94,217.22 641.37,217.22 641.79,217.23 642.21,217.23 642.64,217.23 643.06,217.24 643.48,217.24 643.90,217.24 644.33,217.25 644.75,217.25 645.17,217.25 645.59,217.26 646.02,217.26 646.44,217.26 646.86,217.27 647.29,217.27 647.71,217.28 648.13,217.28 648.55,217.28 648.98,217.29 649.40,217.29 649.82,217.29 650.24,217.30 650.67,217.30 651.09,217.30 651.51,217.31 651.94,217.31 652.36,217.31 652.78,217.32 653.20,217.32 653.63,217.32 654.05,217.33 654.47,217.33 654.89,217.33 655.32,217.33 655.74,217.34 656.16,217.34 656.59,217.34 657.01,217.35 657.43,217.35 657.85,217.35 658.28,217.36 658.70,217.36 659.12,217.36 659.54,217.37 659.97,217.37 660.39,217.37 660.81,217.38 661.23,217.38 661.66,217.38 662.08,217.38 662.50,217.39 662.93,217.39 663.35,217.39 663.77,217.40 664.19,217.40 664.62,217.40 665.04,217.41 665.46,217.41 665.88,217.41 666.31,217.41 666.73,217.42 667.15,217.42 667.58,217.42 668.00,217.43 668.42,217.43 668.84,217.43 669.27,217.43 669.69,217.44 670.11,217.44 670.53,217.44 670.96,217.45 671.38,217.45 671.80,217.45 672.23,217.45 672.65,217.46 673.07,217.46 673.49,217.46 673.92,217.47 674.34,217.47 674.76,217.47 675.18,217.47 675.61,217.48 676.03,217.48 676.45,217.48 676.88,217.48 677.30,217.49 677.72,217.49 678.14,217.49 678.57,217.49 678.99,217.50 679.41,217.50 679.83,217.50 680.26,217.51 680.68,217.51 681.10,217.51 681.53,217.51 681.95,217.52 682.37,217.52 682.79,217.52 683.22,217.52 683.64,217.53 684.06,217.53 684.48,217.53 684.91,217.53 685.33,217.54 685.75,217.54 686.18,217.54 686.60,217.54 687.02,217.55 687.44,217.55 687.87,217.55 688.29,217.55 688.71,217.56 689.13,217.56 689.56,217.56 689.98,217.56 690.40,217.57 690.83,217.57 691.25,217.57 691.67,217.57 692.09,217.57 692.52,217.58 692.94,217.58 693.36,217.58 693.78,217.58 694.21,217.59 694.63,217.59 695.05,217.59 695.47,217.59 695.90,217.60 696.32,217.60 696.74,217.60 697.17,217.60 697.59,217.60 698.01,217.61 698.43,217.61 698.86,217.61 699.28,217.61 699.70,217.62 700.12,217.62 700.55,217.62 700.97,217.62 701.39,217.62 701.82,217.63 702.24,217.63 702.66,217.63 703.08,217.63 703.51,217.64 703.93,217.64 704.35,217.64 704.77,217.64 705.20,217.64 705.62,217.65 706.04,217.65 706.47,217.65 706.89,217.65 707.31,217.66 707.73,217.66 708.16,217.66 708.58,217.66 709.00,217.66 709.42,217.67 709.85,217.67 710.27,217.67 710.69,217.67 711.12,217.67 711.54,217.68 711.96,217.68 712.38,217.68 712.81,217.68 713.23,217.68 713.65,217.69 714.07,217.69 714.50,217.69 714.92,217.69 715.34,217.69 715.77,217.70 716.19,217.70 716.61,217.70 717.03,217.70 717.46,217.70 717.88,217.71 718.30,217.71 718.72,217.71 719.15,217.71 719.57,217.71 719.99,217.72 720.42,217.72 720.84,217.72 721.26,217.72 721.68,217.72 722.11,217.73 722.53,217.73 722.95,217.73 723.37,217.73 723.80,217.73 724.22,217.73 724.64,217.74 725.07,217.74 725.49,217.74 725.91,217.74 726.33,217.74 726.76,217.75 727.18,217.75 727.60,217.75 728.02,217.75 728.45,217.75 728.87,217.76 729.29,217.76 729.71,217.76 730.14,217.76 730.56,217.76 730.98,217.76 731.41,217.77 731.83,217.77 732.25,217.77 732.67,217.77 733.10,217.77 733.52,217.78 733.94,217.78 734.36,217.78 734.79,217.78 735.21,217.78 735.63,217.78 736.06,217.79 736.48,217.79 736.90,217.79 737.32,217.79 737.75,217.79 738.17,217.79 738.59,217.80 739.01,217.80 739.44,217.80 739.86,217.80 740.28,217.80 740.71,217.80 741.13,217.81 741.55,217.81 741.97,217.81 742.40,217.81 742.82,217.81 743.24,217.81 743.66,217.82 744.09,217.82 744.51,217.82 744.93,217.82 745.36,217.82 745.78,217.82 746.20,217.83 746.62,217.83 747.05,217.83 747.47,217.83 747.89,217.83 748.31,217.83 748.74,217.84 749.16,217.84 749.58,217.84 750.01,217.84 750.43,217.84 750.85,217.84 751.27,217.85 751.70,217.85 752.12,217.85 752.54,217.85 752.96,217.85 753.39,217.85 753.81,217.85 754.23,217.86 754.66,217.86 755.08,217.86 755.50,217.86 755.92,217.86 756.35,217.86 756.77,217.87 757.19,217.87 757.61,217.87 758.04,217.87 758.46,217.87 758.88,217.87 759.31,217.87 759.73,217.88 760.15,217.88 760.57,217.88 761.00,217.88 761.42,217.88 761.84,217.88 762.26,217.88 762.69,217.89 763.11,217.89 763.53,217.89 763.95,217.89 764.38,217.89 764.80,217.89 765.22,217.89 765.65,217.90 766.07,217.90 766.49,217.90 766.91,217.90 767.34,217.90 767.76,217.90 768.18,217.91 768.60,217.91 769.03,217.91 769.45,217.91 769.87,217.91 770.30,217.91 770.72,217.91 771.14,217.91 771.56,217.92 771.99,217.92 772.41,217.92 772.83,217.92 773.25,217.92 773.68,217.92 774.10,217.92 774.52,217.93 774.95,217.93 775.37,217.93 775.79,217.93 776.21,217.93 776.64,217.93 777.06,217.93 777.48,217.94 777.90,217.94 778.33,217.94 778.75,217.94" fill="none" stroke="#0000ff" stroke-width="2.2" stroke-dasharray="6.1,6.1" stroke-linejoin="round" clip-path="url(#cb)"/>
<polyline points="441.00,207.99 441.42,209.96 441.84,211.83 442.27,213.59 442.69,215.27 443.11,216.85 443.53,218.36 443.96,219.80 444.38,221.16 444.80,222.47 445.22,223.71 445.64,224.90 446.07,226.03 446.49,227.12 446.91,228.16 447.33,229.16 447.75,230.11 448.18,231.03 448.60,231.91 449.02,232.76 449.44,233.58 449.87,234.37 450.29,235.13 450.71,235.86 451.13,236.56 451.55,237.24 451.98,237.90 452.40,238.53 452.82,239.15 453.24,239.74 453.67,240.32 454.09,240.87 454.51,241.41 454.93,241.94 455.35,242.44 455.78,242.93 456.20,243.41 456.62,243.88 457.04,244.33 457.47,244.76 457.89,245.19 458.31,245.60 458.73,246.00 459.15,246.39 459.58,246.77 460.00,247.14 460.42,247.51 460.84,247.86 461.26,248.20 461.69,248.53 462.11,248.86 462.53,249.18 462.95,249.49 463.38,249.79 463.80,250.09 464.22,250.38 464.64,250.66 465.06,250.93 465.49,251.20 465.91,251.47 466.33,251.72 466.75,251.97 467.18,252.22 467.60,252.46 468.02,252.70 468.44,252.93 468.86,253.15 469.29,253.38 469.71,253.59 470.13,253.80 470.55,254.01 470.98,254.22 471.40,254.42 471.82,254.61 472.24,254.80 472.66,254.99 473.09,255.18 473.51,255.36 473.93,255.54 474.35,255.71 474.77,255.88 475.20,256.05 475.62,256.21 476.04,256.38 476.46,256.54 476.89,256.69 477.31,256.85 477.73,257.00 478.15,257.14 478.57,257.29 479.00,257.43 479.42,257.57 479.84,257.71 480.26,257.85 480.69,257.98 481.11,258.12 481.53,258.25 481.95,258.37 482.37,258.50 482.80,258.62 483.22,258.74 483.64,258.86 484.06,258.98 484.49,259.10 484.91,259.21 485.33,259.32 485.75,259.43 486.17,259.54 486.60,259.65 487.02,259.76 487.44,259.86 487.86,259.96 488.29,260.07 488.71,260.16 489.13,260.26 489.55,260.36 489.97,260.46 490.40,260.55 490.82,260.64 491.24,260.74 491.66,260.83 492.08,260.91 492.51,261.00 492.93,261.09 493.35,261.18 493.77,261.26 494.20,261.34 494.62,261.43 495.04,261.51 495.46,261.59 495.88,261.67 496.31,261.74 496.73,261.82 497.15,261.90 497.57,261.97 498.00,262.05 498.42,262.12 498.84,262.19 499.26,262.26 499.68,262.33 500.11,262.40 500.53,262.47 500.95,262.54 501.37,262.61 501.80,262.67 502.22,262.74 502.64,262.80 503.06,262.87 503.48,262.93 503.91,262.99 504.33,263.06 504.75,263.12 505.17,263.18 505.59,263.24 506.02,263.30 506.44,263.36 506.86,263.41 507.28,263.47 507.71,263.53 508.13,263.58 508.55,263.64 508.97,263.69 509.39,263.75 509.82,263.80 510.24,263.85 510.66,263.91 511.08,263.96 511.51,264.01 511.93,264.06 512.35,264.11 512.77,264.16 513.19,264.21 513.62,264.26 514.04,264.30 514.46,264.35 514.88,264.40 515.31,264.45 515.73,264.49 516.15,264.54 516.57,264.58 516.99,264.63 517.42,264.67 517.84,264.72 518.26,264.76 518.68,264.80 519.10,264.84 519.53,264.89 519.95,264.93 520.37,264.97 520.79,265.01 521.22,265.05 521.64,265.09 522.06,265.13 522.48,265.17 522.90,265.21 523.33,265.25 523.75,265.29 524.17,265.33 524.59,265.36 525.02,265.40 525.44,265.44 525.86,265.47 526.28,265.51 526.70,265.55 527.13,265.58 527.55,265.62 527.97,265.65 528.39,265.69 528.82,265.72 529.24,265.76 529.66,265.79 530.08,265.82 530.50,265.86 530.93,265.89 531.35,265.92 531.77,265.95 532.19,265.99 532.61,266.02 533.04,266.05 533.46,266.08 533.88,266.11 534.30,266.14 534.73,266.17 535.15,266.20 535.57,266.23 535.99,266.26 536.41,266.29 536.84,266.32 537.26,266.35 537.68,266.38 538.10,266.41 538.53,266.44 538.95,266.47 539.37,266.49 539.79,266.52 540.21,266.55 540.64,266.58 541.06,266.60 541.48,266.63 541.90,266.66 542.33,266.68 542.75,266.71 543.17,266.73 543.59,266.76 544.01,266.79 544.44,266.81 544.86,266.84 545.28,266.86 545.70,266.89 546.12,266.91 546.55,266.94 546.97,266.96 547.39,266.98 547.81,267.01 548.24,267.03 548.66,267.05 549.08,267.08 549.50,267.10 549.92,267.12 550.35,267.15 550.77,267.17 551.19,267.19 551.61,267.21 552.04,267.24 552.46,267.26 552.88,267.28 553.30,267.30 553.72,267.32 554.15,267.34 554.57,267.37 554.99,267.39 555.41,267.41 555.84,267.43 556.26,267.45 556.68,267.47 557.10,267.49 557.52,267.51 557.95,267.53 558.37,267.55 558.79,267.57 559.21,267.59 559.63,267.61 560.06,267.63 560.48,267.65 560.90,267.67 561.32,267.69 561.75,267.71 562.17,267.72 562.59,267.74 563.01,267.76 563.43,267.78 563.86,267.80 564.28,267.82 564.70,267.83 565.12,267.85 565.55,267.87 565.97,267.89 566.39,267.91 566.81,267.92 567.23,267.94 567.66,267.96 568.08,267.97 568.50,267.99 568.92,268.01 569.35,268.03 569.77,268.04 570.19,268.06 570.61,268.07 571.03,268.09 571.46,268.11 571.88,268.12 572.30,268.14 572.72,268.16 573.14,268.17 573.57,268.19 573.99,268.20 574.41,268.22 574.83,268.23 575.26,268.25 575.68,268.26 576.10,268.28 576.52,268.30 576.94,268.31 577.37,268.33 577.79,268.34 578.21,268.35 578.63,268.37 579.06,268.38 579.48,268.40 579.90,268.41 580.32,268.43 580.74,268.44 581.17,268.46 581.59,268.47 582.01,268.48 582.43,268.50 582.86,268.51 583.28,268.53 583.70,268.54 584.12,268.55 584.54,268.57 584.97,268.58 585.39,268.59 585.81,268.61 586.23,268.62 586.65,268.63 587.08,268.65 587.50,268.66 587.92,268.67 588.34,268.68 588.77,268.70 589.19,268.71 589.61,268.72 590.03,268.73 590.45,268.75 590.88,268.76 591.30,268.77 591.72,268.78 592.14,268.80 592.57,268.81 592.99,268.82 593.41,268.83 593.83,268.84 594.25,268.86 594.68,268.87 595.10,268.88 595.52,268.89 595.94,268.90 596.37,268.91 596.79,268.93 597.21,268.94 597.63,268.95 598.05,268.96 598.48,268.97 598.90,268.98 599.32,268.99 599.74,269.01 600.16,269.02 600.59,269.03 601.01,269.04 601.43,269.05 601.85,269.06 602.28,269.07 602.70,269.08 603.12,269.09 603.54,269.10 603.96,269.11 604.39,269.12 604.81,269.13 605.23,269.14 605.65,269.15 606.08,269.16 606.50,269.17 606.92,269.19 607.34,269.20 607.76,269.21 608.19,269.22 608.61,269.23 609.03,269.24 609.45,269.24 609.88,269.25 610.30,269.26 610.72,269.27 611.14,269.28 611.56,269.29 611.99,269.30 612.41,269.31 612.83,269.32 613.25,269.33 613.67,269.34 614.10,269.35 614.52,269.36 614.94,269.37 615.36,269.38 615.79,269.39 616.21,269.40 616.63,269.41 617.05,269.41 617.47,269.42 617.90,269.43 618.32,269.44 618.74,269.45 619.16,269.46 619.59,269.47 620.01,269.48 620.43,269.48 620.85,269.49 621.27,269.50 621.70,269.51 622.12,269.52 622.54,269.53 622.96,269.54 623.38,269.54 623.81,269.55 624.23,269.56 624.65,269.57 625.07,269.58 625.50,269.59 625.92,269.59 626.34,269.60 626.76,269.61 627.18,269.62 627.61,269.63 628.03,269.63 628.45,269.64 628.87,269.65 629.30,269.66 629.72,269.67 630.14,269.67 630.56,269.68 630.98,269.69 631.41,269.70 631.83,269.71 632.25,269.71 632.67,269.72 633.10,269.73 633.52,269.74 633.94,269.74 634.36,269.75 634.78,269.76 635.21,269.77 635.63,269.77 636.05,269.78 636.47,269.79 636.89,269.79 637.32,269.80 637.74,269.81 638.16,269.82 638.58,269.82 639.01,269.83 639.43,269.84 639.85,269.84 640.27,269.85 640.69,269.86 641.12,269.87 641.54,269.87 641.96,269.88 642.38,269.89 642.81,269.89 643.23,269.90 643.65,269.91 644.07,269.91 644.49,269.92 644.92,269.93 645.34,269.93 645.76,269.94 646.18,269.95 646.61,269.95 647.03,269.96 647.45,269.97 647.87,269.97 648.29,269.98 648.72,269.99 649.14,269.99 649.56,270.00 649.98,270.01 650.40,270.01 650.83,270.02 651.25,270.02 651.67,270.03 652.09,270.04 652.52,270.04 652.94,270.05 653.36,270.06 653.78,270.06 654.20,270.07 654.63,270.07 655.05,270.08 655.47,270.09 655.89,270.09 656.32,270.10 656.74,270.10 657.16,270.11 657.58,270.12 658.00,270.12 658.43,270.13 658.85,270.13 659.27,270.14 659.69,270.15 660.12,270.15 660.54,270.16 660.96,270.16 661.38,270.17 661.80,270.17 662.23,270.18 662.65,270.19 663.07,270.19 663.49,270.20 663.91,270.20 664.34,270.21 664.76,270.21 665.18,270.22 665.60,270.23 666.03,270.23 666.45,270.24 666.87,270.24 667.29,270.25 667.71,270.25 668.14,270.26 668.56,270.26 668.98,270.27 669.40,270.27 669.83,270.28 670.25,270.28 670.67,270.29 671.09,270.30 671.51,270.30 671.94,270.31 672.36,270.31 672.78,270.32 673.20,270.32 673.63,270.33 674.05,270.33 674.47,270.34 674.89,270.34 675.31,270.35 675.74,270.35 676.16,270.36 676.58,270.36 677.00,270.37 677.42,270.37 677.85,270.38 678.27,270.38 678.69,270.39 679.11,270.39 679.54,270.40 679.96,270.40 680.38,270.41 680.80,270.41 681.22,270.42 681.65,270.42 682.07,270.43 682.49,270.43 682.91,270.44 683.34,270.44 683.76,270.44 684.18,270.45 684.60,270.45 685.02,270.46 685.45,270.46 685.87,270.47 686.29,270.47 686.71,270.48 687.14,270.48 687.56,270.49 687.98,270.49 688.40,270.50 688.82,270.50 689.25,270.50 689.67,270.51 690.09,270.51 690.51,270.52 690.93,270.52 691.36,270.53 691.78,270.53 692.20,270.54 692.62,270.54 693.05,270.54 693.47,270.55 693.89,270.55 694.31,270.56 694.73,270.56 695.16,270.57 695.58,270.57 696.00,270.57 696.42,270.58 696.85,270.58 697.27,270.59 697.69,270.59 698.11,270.60 698.53,270.60 698.96,270.60 699.38,270.61 699.80,270.61 700.22,270.62 700.65,270.62 701.07,270.62 701.49,270.63 701.91,270.63 702.33,270.64 702.76,270.64 703.18,270.65 703.60,270.65 704.02,270.65 704.44,270.66 704.87,270.66 705.29,270.67 705.71,270.67 706.13,270.67 706.56,270.68 706.98,270.68 707.40,270.68 707.82,270.69 708.24,270.69 708.67,270.70 709.09,270.70 709.51,270.70 709.93,270.71 710.36,270.71 710.78,270.72 711.20,270.72 711.62,270.72 712.04,270.73 712.47,270.73 712.89,270.73 713.31,270.74 713.73,270.74 714.16,270.75 714.58,270.75 715.00,270.75 715.42,270.76 715.84,270.76 716.27,270.76 716.69,270.77 717.11,270.77 717.53,270.77 717.96,270.78 718.38,270.78 718.80,270.79 719.22,270.79 719.64,270.79 720.07,270.80 720.49,270.80 720.91,270.80 721.33,270.81 721.75,270.81 722.18,270.81 722.60,270.82 723.02,270.82 723.44,270.82 723.87,270.83 724.29,270.83 724.71,270.83 725.13,270.84 725.55,270.84 725.98,270.84 726.40,270.85 726.82,270.85 727.24,270.85 727.67,270.86 728.09,270.86 728.51,270.87 728.93,270.87 729.35,270.87 729.78,270.87 730.20,270.88 730.62,270.88 731.04,270.88 731.46,270.89 731.89,270.89 732.31,270.89 732.73,270.90 733.15,270.90 733.58,270.90 734.00,270.91 734.42,270.91 734.84,270.91 735.26,270.92 735.69,270.92 736.11,270.92 736.53,270.93 736.95,270.93 737.38,270.93 737.80,270.94 738.22,270.94 738.64,270.94 739.06,270.95 739.49,270.95 739.91,270.95 740.33,270.95 740.75,270.96 741.18,270.96 741.60,270.96 742.02,270.97 742.44,270.97 742.86,270.97 743.29,270.98 743.71,270.98 744.13,270.98 744.55,270.98 744.98,270.99 745.40,270.99 745.82,270.99 746.24,271.00 746.66,271.00 747.09,271.00 747.51,271.01 747.93,271.01 748.35,271.01 748.77,271.01 749.20,271.02 749.62,271.02 750.04,271.02 750.46,271.03 750.89,271.03 751.31,271.03 751.73,271.03 752.15,271.04 752.57,271.04 753.00,271.04 753.42,271.05 753.84,271.05 754.26,271.05 754.69,271.05 755.11,271.06 755.53,271.06 755.95,271.06 756.37,271.07 756.80,271.07 757.22,271.07 757.64,271.07 758.06,271.08 758.49,271.08 758.91,271.08 759.33,271.08 759.75,271.09 760.17,271.09 760.60,271.09 761.02,271.09 761.44,271.10 761.86,271.10 762.28,271.10 762.71,271.11 763.13,271.11 763.55,271.11 763.97,271.11 764.40,271.12 764.82,271.12 765.24,271.12 765.66,271.12 766.08,271.13 766.51,271.13 766.93,271.13 767.35,271.13 767.77,271.14 768.20,271.14 768.62,271.14 769.04,271.14 769.46,271.15 769.88,271.15 770.31,271.15 770.73,271.15 771.15,271.16 771.57,271.16 772.00,271.16 772.42,271.16 772.84,271.17 773.26,271.17 773.68,271.17 774.11,271.17 774.53,271.18 774.95,271.18 775.37,271.18 775.79,271.18 776.22,271.19 776.64,271.19 777.06,271.19 777.48,271.19 777.91,271.20 778.33,271.20 778.75,271.20" fill="none" stroke="#8000cc" stroke-width="2.2" stroke-linejoin="round" clip-path="url(#cb)"/>
<line x1="552.46" y1="231.80" x2="552.46" y2="250.50" stroke="#222" stroke-width="1.0"/>
<line x1="550.86" y1="231.80" x2="554.06" y2="231.80" stroke="#222" stroke-width="1.0"/>
<line x1="550.86" y1="250.50" x2="554.06" y2="250.50" stroke="#222" stroke-width="1.0"/>
<circle cx="552.46" cy="241.1" r="2.3" fill="#111"/>
<polygon points="552.46,260.90 554.19,263.30 552.46,265.70 550.73,263.30" fill="#8b4513" stroke="#8b4513" stroke-width="1.3"/>
<path d="M549.86,264.90L555.06,270.10M549.86,270.10L555.06,264.90" stroke="#9fcc00" stroke-width="1.2"/>
<line x1="552.46" y1="205.90" x2="552.46" y2="216.00" stroke="#ff8c00" stroke-width="1.1"/>
<line x1="550.86" y1="205.90" x2="554.06" y2="205.90" stroke="#ff8c00" stroke-width="1.1"/>
<line x1="550.86" y1="216.00" x2="554.06" y2="216.00" stroke="#ff8c00" stroke-width="1.1"/>
<path d="M549.46,213.00L555.46,213.00M552.46,210.00L552.46,216.00M550.34,210.88L554.58,215.12M550.34,215.12L554.58,210.88" stroke="#ff8c00" stroke-width="1.2"/>
<rect x="550.66" y="207.50" width="3.6" height="3.6" fill="none" stroke="#0000ff" stroke-width="1.5"/>
<text transform="translate(36.40,276.45) scale(1.0700,1)" style="font-size:10.5px" text-anchor="end" fill="#1a1a1a" stroke="#1a1a1a" stroke-width="0.12">0</text>
<text transform="translate(36.40,232.73) scale(1.0700,1)" style="font-size:10.5px" text-anchor="end" fill="#1a1a1a" stroke="#1a1a1a" stroke-width="0.12">0.2</text>
<text transform="translate(36.40,189.02) scale(1.0700,1)" style="font-size:10.5px" text-anchor="end" fill="#1a1a1a" stroke="#1a1a1a" stroke-width="0.12">0.4</text>
<text transform="translate(36.40,145.30) scale(1.0700,1)" style="font-size:10.5px" text-anchor="end" fill="#1a1a1a" stroke="#1a1a1a" stroke-width="0.12">0.6</text>
<text transform="translate(36.40,101.58) scale(1.0700,1)" style="font-size:10.5px" text-anchor="end" fill="#1a1a1a" stroke="#1a1a1a" stroke-width="0.12">0.8</text>
<text transform="translate(36.40,57.87) scale(1.0700,1)" style="font-size:10.5px" text-anchor="end" fill="#1a1a1a" stroke="#1a1a1a" stroke-width="0.12">1</text>
<text transform="translate(36.40,14.15) scale(1.0700,1)" style="font-size:10.5px" text-anchor="end" fill="#1a1a1a" stroke="#1a1a1a" stroke-width="0.12">1.2</text>
<text transform="translate(40.90,286.60) scale(1.0700,1)" style="font-size:10.5px" text-anchor="middle" fill="#1a1a1a" stroke="#1a1a1a" stroke-width="0.12">-1</text>
<text transform="translate(123.83,286.60) scale(1.0700,1)" style="font-size:10.5px" text-anchor="middle" fill="#1a1a1a" stroke="#1a1a1a" stroke-width="0.12">-0.5</text>
<text transform="translate(206.75,286.60) scale(1.0700,1)" style="font-size:10.5px" text-anchor="middle" fill="#1a1a1a" stroke="#1a1a1a" stroke-width="0.12">0</text>
<text transform="translate(289.68,286.60) scale(1.0700,1)" style="font-size:10.5px" text-anchor="middle" fill="#1a1a1a" stroke="#1a1a1a" stroke-width="0.12">0.5</text>
<text transform="translate(372.60,286.60) scale(1.0700,1)" style="font-size:10.5px" text-anchor="middle" fill="#1a1a1a" stroke="#1a1a1a" stroke-width="0.12">1</text>
<text transform="translate(436.40,276.65) scale(1.0700,1)" style="font-size:10.5px" text-anchor="end" fill="#1a1a1a" stroke="#1a1a1a" stroke-width="0.12">0</text>
<text transform="translate(436.40,224.17) scale(1.0700,1)" style="font-size:10.5px" text-anchor="end" fill="#1a1a1a" stroke="#1a1a1a" stroke-width="0.12">0.5</text>
<text transform="translate(436.40,171.69) scale(1.0700,1)" style="font-size:10.5px" text-anchor="end" fill="#1a1a1a" stroke="#1a1a1a" stroke-width="0.12">1</text>
<text transform="translate(436.40,119.21) scale(1.0700,1)" style="font-size:10.5px" text-anchor="end" fill="#1a1a1a" stroke="#1a1a1a" stroke-width="0.12">1.5</text>
<text transform="translate(436.40,66.73) scale(1.0700,1)" style="font-size:10.5px" text-anchor="end" fill="#1a1a1a" stroke="#1a1a1a" stroke-width="0.12">2</text>
<text transform="translate(436.40,14.25) scale(1.0700,1)" style="font-size:10.5px" text-anchor="end" fill="#1a1a1a" stroke="#1a1a1a" stroke-width="0.12">2.5</text>
<text transform="translate(441.00,286.60) scale(1.0700,1)" style="font-size:10.5px" text-anchor="middle" fill="#1a1a1a" stroke="#1a1a1a" stroke-width="0.12">0</text>
<text transform="translate(525.44,286.60) scale(1.0700,1)" style="font-size:10.5px" text-anchor="middle" fill="#1a1a1a" stroke="#1a1a1a" stroke-width="0.12">5</text>
<text transform="translate(609.88,286.60) scale(1.0700,1)" style="font-size:10.5px" text-anchor="middle" fill="#1a1a1a" stroke="#1a1a1a" stroke-width="0.12">10</text>
<text transform="translate(694.31,286.60) scale(1.0700,1)" style="font-size:10.5px" text-anchor="middle" fill="#1a1a1a" stroke="#1a1a1a" stroke-width="0.12">15</text>
<text transform="translate(778.75,286.60) scale(1.0700,1)" style="font-size:10.5px" text-anchor="middle" fill="#1a1a1a" stroke="#1a1a1a" stroke-width="0.12">20</text>
<text transform="translate(59.80,304.00) scale(1.1354,1)" style="font-size:13.2px" fill="#1a1a1a" stroke="#1a1a1a" stroke-width="0.12">Additional reductant requirement per carbon</text>
<text transform="translate(485.93,304.60) scale(1.1060,1)" style="font-size:13.2px" fill="#1a1a1a" stroke="#1a1a1a" stroke-width="0.12">Maintenance ATP per biomass carbon</text>
<text transform="translate(9.80,256.49) rotate(-90) scale(1.1488,1)" style="font-size:13.0px" fill="#1a1a1a" stroke="#1a1a1a" stroke-width="0.12">Flux activity in mmol/mmol glucose</text>
<text transform="translate(409.30,256.49) rotate(-90) scale(1.1488,1)" style="font-size:13.0px" fill="#1a1a1a" stroke="#1a1a1a" stroke-width="0.12">Flux activity in mmol/mmol glucose</text>
<text transform="translate(2.50,15.20) scale(1.0000,1)" style="font-size:16.5px;font-weight:bold" fill="#000" stroke="#000" stroke-width="0.12">a</text>
<text transform="translate(402.95,16.80) scale(1.0000,1)" style="font-size:16.5px;font-weight:bold" fill="#000" stroke="#000" stroke-width="0.12">b</text>
<rect x="506.5" y="32.8" width="216.9" height="111.3" fill="#fff" stroke="#333" stroke-width="1.2"/>
<text transform="translate(558.75,43.60) scale(1.1053,1)" style="font-size:10.8px" fill="#1a1a1a" stroke="#1a1a1a" stroke-width="0.3">Exp</text>
<text transform="translate(609.86,43.80) scale(1.0905,1)" style="font-size:10.8px" fill="#1a1a1a" stroke="#1a1a1a" stroke-width="0.3">Flux</text>
<line x1="513.2" y1="55.30" x2="551.0" y2="55.30" stroke="#000000" stroke-width="2.3"/>
<text transform="translate(589.25,59.30) scale(1.1002,1)" style="font-size:10.8px" fill="#1a1a1a" stroke="#1a1a1a" stroke-width="0.3">Biomass</text>
<circle cx="569.90" cy="55.30" r="2.3" fill="none" stroke="#111" stroke-width="1.2"/>
<line x1="513.2" y1="68.38" x2="551.0" y2="68.38" stroke="#ffb6c1" stroke-width="2.3"/>
<text transform="translate(589.31,72.38) scale(1.0300,1)" style="font-size:10.8px" fill="#1a1a1a" stroke="#1a1a1a" stroke-width="0.3">FHL</text>
<line x1="514.1" y1="81.46" x2="550.2" y2="81.46" stroke="#9fcc00" stroke-width="2.3" stroke-dasharray="7.6,6.6"/>
<text transform="translate(590.20,85.46) scale(1.1219,1)" style="font-size:10.8px" fill="#1a1a1a" stroke="#1a1a1a" stroke-width="0.3">Acetone production</text>
<path d="M566.90,78.46L572.90,84.46M566.90,84.46L572.90,78.46" stroke="#9fcc00" stroke-width="1.2"/>
<line x1="513.2" y1="94.54" x2="551.0" y2="94.54" stroke="#8b4513" stroke-width="2.3"/>
<text transform="translate(590.20,98.54) scale(1.1342,1)" style="font-size:10.8px" fill="#1a1a1a" stroke="#1a1a1a" stroke-width="0.3">Acetate production</text>
<polygon points="569.90,91.24 572.28,94.54 569.90,97.84 567.52,94.54" fill="none" stroke="#8b4513" stroke-width="1.2"/>
<line x1="513.2" y1="107.62" x2="551.0" y2="107.62" stroke="#ff8c00" stroke-width="2.3"/>
<text transform="translate(589.21,111.62) scale(1.1453,1)" style="font-size:10.8px" fill="#1a1a1a" stroke="#1a1a1a" stroke-width="0.3">Ethanol production</text>
<path d="M566.50,107.62L573.30,107.62M569.90,104.22L569.90,111.02M567.50,105.22L572.30,110.02M567.50,110.02L572.30,105.22" stroke="#ff8c00" stroke-width="1.2"/>
<line x1="514.1" y1="120.70" x2="550.2" y2="120.70" stroke="#0000ff" stroke-width="2.3" stroke-dasharray="7.6,6.6"/>
<text transform="translate(589.21,124.70) scale(1.1484,1)" style="font-size:10.8px" fill="#1a1a1a" stroke="#1a1a1a" stroke-width="0.3">Butanediol production</text>
<rect x="568.00" y="118.80" width="3.8" height="3.8" fill="none" stroke="#0000ff" stroke-width="1.4"/>
<line x1="513.2" y1="133.78" x2="551.0" y2="133.78" stroke="#8000cc" stroke-width="2.3"/>
<text transform="translate(590.20,137.78) scale(1.1348,1)" style="font-size:10.8px" fill="#1a1a1a" stroke="#1a1a1a" stroke-width="0.3">Ammonia uptake/export</text>
</svg>
</body></html>
